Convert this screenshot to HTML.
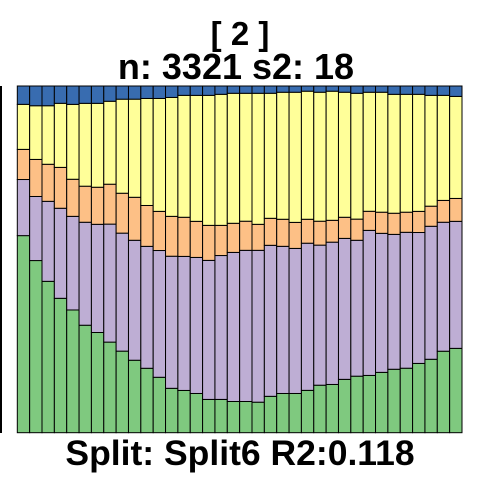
<!DOCTYPE html>
<html><head><meta charset="utf-8"><style>
body{margin:0;background:#fff;width:480px;height:480px;overflow:hidden;font-family:"Liberation Sans",sans-serif}
svg{display:block}
</style></head><body>
<svg id="chart" width="480" height="480" xmlns="http://www.w3.org/2000/svg">
<text x="240" y="45" text-anchor="middle" font-family="Liberation Sans, sans-serif" font-weight="bold" font-size="33">[ 2 ]</text>
<text x="236" y="79" text-anchor="middle" font-family="Liberation Sans, sans-serif" font-weight="bold" font-size="36">n: 3321 s2: 18</text>
<text x="240" y="465" text-anchor="middle" font-family="Liberation Sans, sans-serif" font-weight="bold" font-size="35.5">Split: Split6 R2:0.118</text>
<line x1="1" y1="86" x2="1" y2="433" stroke="#000" stroke-width="2"/>
<g id="bars"></g>
</svg>
<script>
const green=[56.9,49.7,43.7,38.8,35.4,31.0,28.9,26.1,23.5,20.9,18.6,16.0,12.8,12.2,11.3,9.6,9.6,9.0,9.0,8.8,10.5,11.3,11.3,12.2,13.7,13.9,15.4,16.3,16.5,17.4,18.3,18.6,20.0,21.2,23.5,24.3];
const purple=[16.2,18.5,23.1,26.0,27.0,29.7,31.2,34.0,34.0,34.6,35.2,36.6,38.1,38.7,39.2,40.1,41.5,43.0,43.6,43.8,43.6,42.4,41.8,42.4,40.4,41.0,40.7,39.2,41.8,40.1,38.9,39.2,37.8,38.4,37.2,36.6];
const orange=[8.7,10.7,10.7,11.8,10.7,10.4,10.7,11.5,11.5,12.4,11.8,11.3,11.5,11.3,10.4,10.1,8.7,8.4,8.4,7.5,7.8,7.8,7.5,6.9,6.9,6.3,6.1,6.1,5.5,6.1,6.1,5.8,6.1,5.8,6.3,6.6];
const yellow=[13.0,15.5,16.9,18.5,21.6,23.9,24.2,23.9,27.1,28.3,30.9,32.6,34.3,35.2,36.3,37.5,37.8,37.5,36.9,37.8,36.1,36.6,37.5,36.9,37.2,37.2,36.1,36.3,34.3,34.6,34.3,34.0,33.8,32.0,30.3,29.4];
const blue=[5.3,5.7,5.7,5.0,5.3,5.0,5.0,4.4,3.8,3.8,3.6,3.6,3.3,2.7,2.7,2.7,2.4,2.1,2.1,2.1,2.1,1.8,1.8,1.5,1.8,1.5,1.8,2.1,1.8,1.8,2.4,2.4,2.4,2.7,2.7,3.0];
const seriesNames=["green","purple","orange","yellow","blue"];
const seriesColors=["#7fc97f","#beaed4","#fdc086","#ffff99","#386cb0"];
const series=[green,purple,orange,yellow,blue];
const X0=17.3,X1=462,Y0=86,Y1=432.7;
const n=green.length;
const bw=(X1-X0)/n;
const xs=i=>X0+i*bw;
const ys=f=>Y1-f*(Y1-Y0);
const g=document.getElementById('bars');
const NS="http://www.w3.org/2000/svg";
for(let i=0;i<n;i++){
  const tot=series.reduce((s,a)=>s+a[i],0);
  let cum=0;
  for(let k=0;k<series.length;k++){
    const v=series[k][i]/tot;
    const r=document.createElementNS(NS,'rect');
    r.setAttribute('x',xs(i));
    r.setAttribute('width',bw);
    r.setAttribute('y',ys(cum+v));
    r.setAttribute('height',ys(cum)-ys(cum+v));
    r.setAttribute('fill',seriesColors[k]);
    r.setAttribute('stroke','#000');
    r.setAttribute('stroke-width','1');
    
    
    g.appendChild(r);
    cum+=v;
  }
}
</script>
</body></html>
